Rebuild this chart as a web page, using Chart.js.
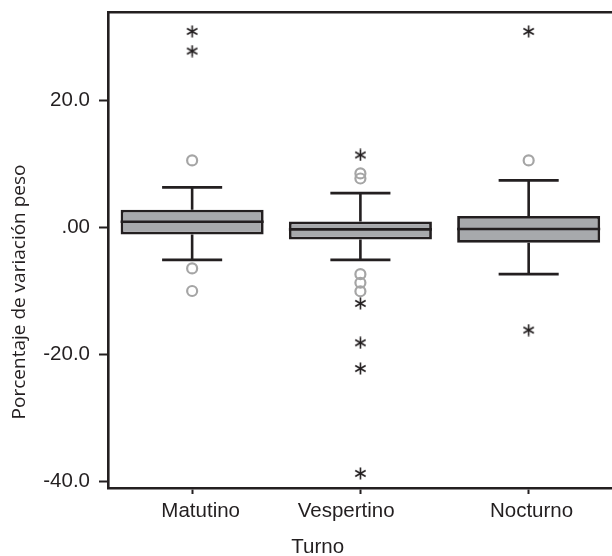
<!DOCTYPE html>
<html>
<head>
<meta charset="utf-8">
<script src="https://cdn.jsdelivr.net/npm/chart.js@4.4.0/dist/chart.umd.min.js"></script>
<style>
  html, body { margin: 0; padding: 0; background: #fff; overflow: hidden; }
  #wrap { width: 612px; height: 556px; overflow: hidden; }
</style>
</head>
<body>
<div id="wrap"><canvas id="chart" width="620" height="556"></canvas></div>
<script>
// box plot data, per turno
const categories = ['Matutino', 'Vespertino', 'Nocturno'];
const q1 = [-1.1, -1.9, -2.4];
const median = [0.9, -0.3, -0.25];
const q3 = [2.8, 0.95, 1.8];
const whiskerLow = [-5.1, -5.1, -7.35];
const whiskerHigh = [6.3, 5.4, 7.4];

// outliers (circles) and extremes (asterisks)
const outliersMatutino = [10.55, -6.45, -10.0];
const outliersVespertino = [8.5, 7.7, -7.35, -8.7, -10.05];
const outliersNocturno = [10.55];
const extremesMatutino = [30.85, 27.75];
const extremesVespertino = [11.4, -11.95, -18.15, -22.2, -38.7];
const extremesNocturno = [30.85, -16.15];

const yTicks = [-40, -20, 0, 20];

const ink = '#231f20';
const boxFill = '#a7a9ac';
const circleGray = '#a5a5a5';
const arial = '"Liberation Sans", Arial, sans-serif';

function toPoints(lists) {
  return lists.flatMap((arr, i) => arr.map(v => ({ x: categories[i], y: v })));
}

// 6-armed asterisk used by SPSS for extreme values
function makeAsterisk(size, color, lw) {
  const c = document.createElement('canvas');
  c.width = size; c.height = size;
  const g = c.getContext('2d');
  g.strokeStyle = color; g.lineWidth = lw;
  const r = size / 2 - 0.5, cx = size / 2, cy = size / 2;
  for (let k = 0; k < 3; k++) {
    const a = Math.PI / 2 + k * Math.PI / 3;
    g.beginPath();
    g.moveTo(cx - r * Math.cos(a), cy - r * Math.sin(a));
    g.lineTo(cx + r * Math.cos(a), cy + r * Math.sin(a));
    g.stroke();
  }
  return c;
}

// whiskers + medians drawn with the chart's own scales
const boxPlotLines = {
  id: 'boxPlotLines',
  beforeDatasetsDraw(chart) {
    const ctx = chart.ctx, y = chart.scales.y;
    const meta = chart.getDatasetMeta(0);
    ctx.save();
    ctx.strokeStyle = ink; ctx.lineWidth = 2.6;
    meta.data.forEach((bar, i) => {
      const cap = bar.width * 0.21;
      const yHi = y.getPixelForValue(whiskerHigh[i]);
      const yLo = y.getPixelForValue(whiskerLow[i]);
      ctx.beginPath();
      ctx.moveTo(bar.x, y.getPixelForValue(q3[i])); ctx.lineTo(bar.x, yHi);
      ctx.moveTo(bar.x, y.getPixelForValue(q1[i])); ctx.lineTo(bar.x, yLo);
      ctx.moveTo(bar.x - cap, yHi); ctx.lineTo(bar.x + cap, yHi);
      ctx.moveTo(bar.x - cap, yLo); ctx.lineTo(bar.x + cap, yLo);
      ctx.stroke();
    });
    ctx.restore();
  },
  afterDatasetDraw(chart, args) {
    if (args.index !== 0) return;
    const ctx = chart.ctx, y = chart.scales.y;
    ctx.save();
    ctx.strokeStyle = ink; ctx.lineWidth = 2.6;
    args.meta.data.forEach((bar, i) => {
      const ym = y.getPixelForValue(median[i]);
      ctx.beginPath();
      ctx.moveTo(bar.x - bar.width / 2, ym); ctx.lineTo(bar.x + bar.width / 2, ym);
      ctx.stroke();
    });
    ctx.restore();
  }
};

// SPSS sets the category labels and axis titles a little off centre
const labelPad = ['   ', '', ' '];
const labelTrail = ['', '     ', ''];

new Chart(document.getElementById('chart'), {
  type: 'bar',
  data: {
    labels: categories,
    datasets: [
      {
        data: categories.map((c, i) => [q1[i], q3[i]]),
        backgroundColor: boxFill,
        borderColor: ink,
        borderWidth: 2.8,
        borderSkipped: false,
        categoryPercentage: 1,
        barPercentage: 0.85,
        order: 2
      },
      {
        type: 'scatter',
        data: toPoints([outliersMatutino, outliersVespertino, outliersNocturno]),
        pointStyle: 'circle',
        pointRadius: 5,
        borderWidth: 2.2,
        borderColor: circleGray,
        backgroundColor: 'rgba(0,0,0,0)',
        order: 1
      },
      {
        type: 'scatter',
        data: toPoints([extremesMatutino, extremesVespertino, extremesNocturno]),
        pointStyle: makeAsterisk(13, ink, 1.6),
        pointRadius: 6,
        order: 0
      }
    ]
  },
  options: {
    responsive: false,
    animation: false,
    events: [],
    layout: { padding: 0 },
    plugins: { legend: { display: false }, tooltip: { enabled: false } },
    scales: {
      x: {
        type: 'category',
        offset: true,
        afterFit: s => { s.height = 68; s.paddingLeft = 0; s.paddingRight = 0; },
        grid: { offset: false, drawOnChartArea: false, drawTicks: true, tickLength: 6, tickWidth: 2, tickColor: ink },
        border: { display: true, color: ink, width: 2.6 },
        ticks: {
          padding: 5,
          color: ink,
          font: { family: arial, size: 20.5 },
          callback: (v, i) => labelPad[i] + categories[i] + labelTrail[i]
        },
        title: {
          display: true,
          text: 'Turno' + ' '.repeat(15),
          color: ink,
          font: { family: arial, size: 20.5 },
          padding: { top: 0, bottom: -4 }
        }
      },
      xTop: {
        type: 'category',
        position: 'top',
        afterFit: s => { s.height = 12; s.paddingLeft = 0; s.paddingRight = 0; },
        grid: { display: false, drawTicks: false },
        border: { display: true, color: ink, width: 2.6 },
        ticks: { display: false }
      },
      y: {
        min: -41,
        max: 33.9,
        afterFit: s => { s.width = 108; s.paddingTop = 0; s.paddingBottom = 0; },
        afterBuildTicks: s => { s.ticks = yTicks.map(v => ({ value: v })); },
        grid: { drawOnChartArea: false, drawTicks: true, tickLength: 9, tickWidth: 2, tickColor: ink },
        border: { display: true, color: ink, width: 2.6 },
        ticks: {
          padding: 9,
          color: ink,
          font: { family: arial, size: 20.5 },
          callback: v => (v === 0 ? '.00' : v.toFixed(1))
        },
        title: {
          display: true,
          text: 'Porcentaje de variación peso' + ' '.repeat(17),
          color: ink,
          font: { family: '"Open Sans", "Noto Sans", sans-serif', size: 19 },
          padding: { top: 8, bottom: 0 }
        }
      }
    }
  },
  plugins: [boxPlotLines]
});
</script>
</body>
</html>
